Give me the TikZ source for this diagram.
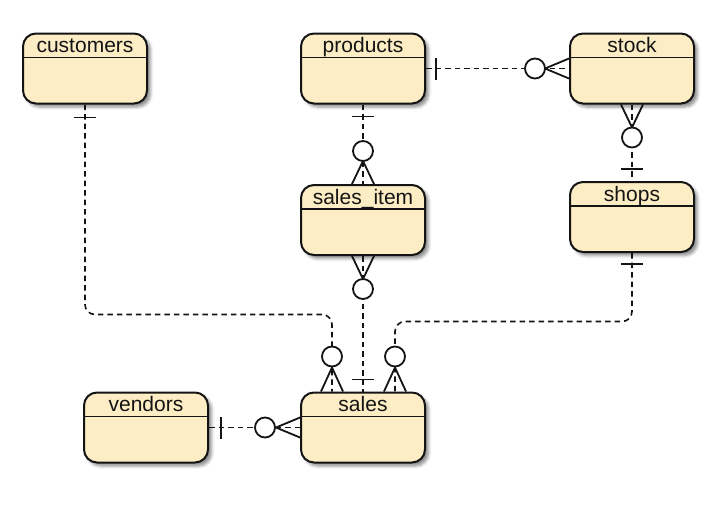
\documentclass[tikz,border=0pt]{standalone}
\usepackage{fontspec}
\setmainfont{Liberation Sans}
\usetikzlibrary{calc,shadows.blur}
\definecolor{entfill}{RGB}{253,237,197}
\definecolor{ink}{RGB}{20,20,20}
\tikzset{
  entity/.style={draw=ink, line width=2pt, fill=entfill, rounded corners=13pt,
    minimum width=124pt, minimum height=70pt, inner sep=0pt,
    blur shadow={shadow xshift=3.5pt, shadow yshift=-3.5pt, shadow blur radius=3pt, shadow opacity=45}},
  etitle/.style={anchor=base, inner sep=0pt, font=\fontsize{21}{24}\selectfont, text=ink},
  hline/.style={draw=ink, line width=1.5pt},
  rel/.style={draw=ink, line width=1.6pt, dash pattern=on 5.5pt off 4pt},
  solidl/.style={draw=ink, line width=1.8pt},
  zero/.style={circle, draw=ink, fill=white, line width=1.8pt, minimum size=20pt, inner sep=0pt}
}
\newcommand\entbox[4]{%
  \node[entity] (#1) at (#2,#3) {};
  \draw[hline] ($(#1.north west)+(0,25)$) -- ($(#1.north east)+(0,25)$);
  \node[etitle] (#1-t) at ($(#1.north)+(0,20)$) {#4};
}
\begin{document}
\begin{tikzpicture}[x=1pt,y=-1pt]
\useasboundingbox (0,0) rectangle (726,509);
\entbox{customers}{85}{68.5}{customers}
\entbox{products}{363}{68.5}{products}
\entbox{stock}{632}{68.5}{stock}
\entbox{salesitem}{363}{220}{sales\_item}
\entbox{shops}{632}{217}{shops}
\entbox{vendors}{146}{427.5}{vendors}
\entbox{sales}{363}{427.5}{sales}

% products -- stock
\draw[rel] (products.east) -- (stock.west);
\draw[solidl] ($(products.east)+(10,-11)$) -- ($(products.east)+(10,11)$);
\draw[solidl] ($(stock.west)+(0,-10)$) -- ($(stock.west)+(-24,0)$) -- ($(stock.west)+(0,10)$);
\node[zero] (z1) at ($(stock.west)+(-34,0)$) {};

% stock -- shops
\draw[rel] (stock.south) -- (shops.north);
\draw[solidl] ($(shops.north)+(-11,-12)$) -- ($(shops.north)+(11,-12)$);
\draw[solidl] ($(stock.south)+(-11,0)$) -- ($(stock.south)+(0,23)$) -- ($(stock.south)+(11,0)$);
\node[zero] (z2) at ($(stock.south)+(0,33)$) {};

% products -- sales_item
\draw[rel] (products.south) -- (salesitem.north);
\draw[solidl] ($(products.south)+(-11,12)$) -- ($(products.south)+(11,12)$);
\draw[solidl] ($(salesitem.north)+(-11,0)$) -- ($(salesitem.north)+(0,-23)$) -- ($(salesitem.north)+(11,0)$);
\node[zero] (z3) at ($(salesitem.north)+(0,-33)$) {};

% sales_item -- sales
\draw[rel] (salesitem.south) -- (sales.north);
\draw[solidl] ($(sales.north)+(-11,-12)$) -- ($(sales.north)+(11,-12)$);
\draw[solidl] ($(salesitem.south)+(-11,0)$) -- ($(salesitem.south)+(0,23)$) -- ($(salesitem.south)+(11,0)$);
\node[zero] (z4) at ($(salesitem.south)+(0,33)$) {};

% customers -- sales
\draw[rel, rounded corners=10pt] (customers.south) |- ($(sales.north)+(-31,-77)$) -- ($(sales.north)+(-31,0)$);
\draw[solidl] ($(customers.south)+(-11,13)$) -- ($(customers.south)+(11,13)$);
\draw[solidl] ($(sales.north)+(-42,0)$) -- ($(sales.north)+(-31,-24)$) -- ($(sales.north)+(-20,0)$);
\node[zero] (z5) at ($(sales.north)+(-31,-35)$) {};

% shops -- sales
\draw[rel, rounded corners=10pt] (shops.south) |- ($(sales.north)+(32,-70)$) -- ($(sales.north)+(32,0)$);
\draw[solidl] ($(shops.south)+(-11,11)$) -- ($(shops.south)+(11,11)$);
\draw[solidl] ($(sales.north)+(21,0)$) -- ($(sales.north)+(32,-24)$) -- ($(sales.north)+(43,0)$);
\node[zero] (z6) at ($(sales.north)+(32,-35)$) {};

% vendors -- sales
\draw[rel] (vendors.east) -- (sales.west);
\draw[solidl] ($(vendors.east)+(12,-11)$) -- ($(vendors.east)+(12,11)$);
\draw[solidl] ($(sales.west)+(0,-10)$) -- ($(sales.west)+(-24,0)$) -- ($(sales.west)+(0,10)$);
\node[zero] (z7) at ($(sales.west)+(-35,0)$) {};
\end{tikzpicture}
\end{document}
